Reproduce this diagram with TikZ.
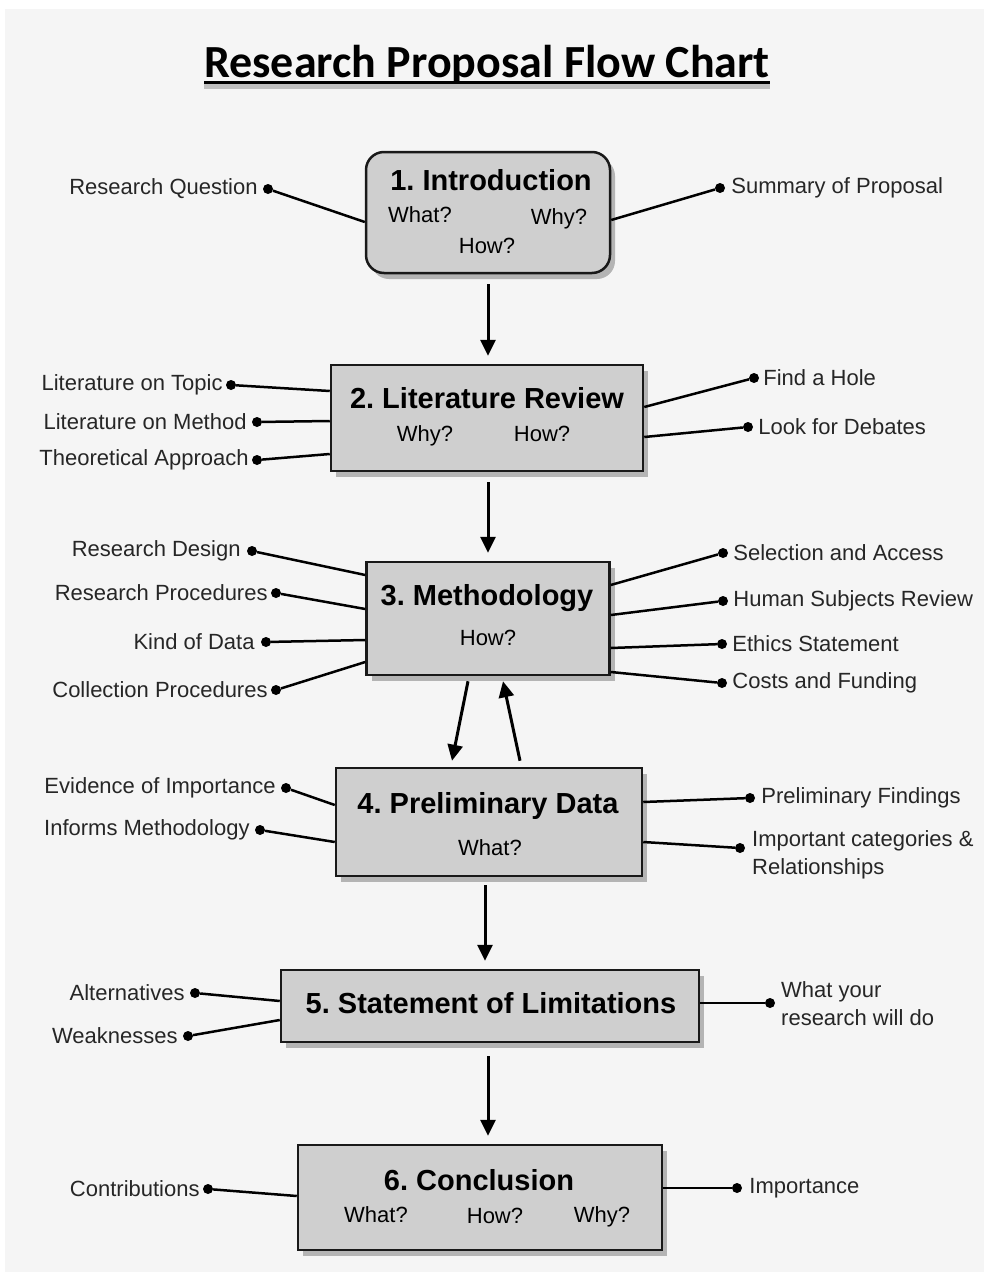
\documentclass[tikz,border=0pt]{standalone}
\usepackage{fontspec}
\setmainfont{Liberation Sans}
\newfontfamily\titrefont{Carlito}
\usetikzlibrary{positioning}
\usetikzlibrary{arrows.meta}
\usetikzlibrary{shadows}
\frenchspacing
\begin{document}
\begin{tikzpicture}[x=1pt,y=-1pt]
% les styles
\tikzstyle fondprojet=[fill=black!4]
\tikzstyle boiteprojet=[draw=black!90,line width=2.5pt,fill=black!19,drop shadow={shadow xshift=5pt,shadow yshift=-6pt,fill=black!50,opacity=0.55}]
\tikzstyle titreprojet=[font=\bfseries\fontsize{29}{32}\selectfont,anchor=base,inner sep=0pt]
\tikzstyle questionprojet=[font=\fontsize{22}{26}\selectfont,anchor=base,inner sep=0pt]
\tikzstyle etiquetteprojet=[font=\fontsize{22}{28}\selectfont,inner sep=0pt,text=black!85]
\tikzstyle pointprojet=[circle,fill=black,inner sep=0pt,minimum size=10pt]
\tikzstyle lienprojet=[line width=2.5pt]
\tikzstyle flecheprojet=[line width=3pt,-{Triangle[length=16pt,width=15pt]}]

% le fond
\fill[white] (0,0) rectangle (988,1282);
\fill[fondprojet] (5,9) rectangle (984,1272);
\useasboundingbox (0,0) rectangle (988,1282);

% le titre
\node[font=\titrefont\bfseries\fontsize{46}{50}\selectfont,anchor=base,inner sep=0pt] (titre) at (487,77) {Research Proposal Flow Chart};
\draw[line width=5pt,black!25] ([yshift=-9pt]titre.base west) -- ([yshift=-9pt]titre.base east);
\draw[line width=3pt] ([yshift=-5pt]titre.base west) -- ([yshift=-5pt]titre.base east);

% les boites
\node[boiteprojet,rounded corners=18pt,minimum width=244pt,minimum height=121pt] (b1) at (488,212.5) {};
\node[boiteprojet,minimum width=312pt,minimum height=106pt] (b2) at (487,418) {};
\node[boiteprojet,minimum width=243pt,minimum height=113pt] (b3) at (488,618.5) {};
\node[boiteprojet,minimum width=306pt,minimum height=108pt] (b4) at (489,822) {};
\node[boiteprojet,minimum width=418pt,minimum height=72pt] (b5) at (490,1006) {};
\node[boiteprojet,minimum width=364pt,minimum height=105pt] (b6) at (480,1197.5) {};

% textes des boites
\node[titreprojet] (t1) at (491,190) {1. Introduction};
\node[questionprojet] (q1a) at (420,222) {What?};
\node[questionprojet] (q1b) at (559,224) {Why?};
\node[questionprojet] (q1c) at (487,253) {How?};
\node[titreprojet] (t2) at (487,408) {2. Literature Review};
\node[questionprojet] (q2a) at (425,441) {Why?};
\node[questionprojet] (q2b) at (542,441) {How?};
\node[titreprojet] (t3) at (487,605) {3. Methodology};
\node[questionprojet] (q3a) at (488,645) {How?};
\node[titreprojet] (t4) at (488,813) {4. Preliminary Data};
\node[questionprojet] (q4a) at (490,855) {What?};
\node[titreprojet] (t5) at (491,1013) {5. Statement of Limitations};
\node[titreprojet] (t6) at (479,1190) {6. Conclusion};
\node[questionprojet] (q6a) at (376,1222) {What?};
\node[questionprojet] (q6b) at (495,1223) {How?};
\node[questionprojet] (q6c) at (602,1222) {Why?};

% les fleches
\draw[flecheprojet,shorten <=10pt,shorten >=8pt] (b1.south) -- (b2.north -| b1.south);
\draw[flecheprojet,shorten <=10pt,shorten >=8pt] (b2.south -| b3.north) -- (b3.north);
\draw[flecheprojet] ([xshift=-20pt,yshift=-5pt]b3.south) -- ([xshift=-37pt,yshift=6pt]b4.north);
\draw[flecheprojet] ([xshift=31pt,yshift=6pt]b4.north) -- ([xshift=15pt,yshift=-5pt]b3.south);
\draw[flecheprojet,shorten <=8pt,shorten >=8pt] ([xshift=-4pt]b4.south) -- ([xshift=-4pt]b4.south |- b5.north);
\draw[flecheprojet,shorten <=13pt,shorten >=8pt] ([xshift=-2pt]b5.south) -- ([xshift=-2pt]b5.south |- b6.north);

% etiquettes de gauche
\node[pointprojet] (g1a) at (268,189) {};
\node[etiquetteprojet,left=5pt of g1a] {Research Question};
\draw[lienprojet] (g1a) -- (b1.west |- 0,222);

\node[pointprojet] (g2a) at (231,385) {};
\node[etiquetteprojet,left=3pt of g2a] {Literature on Topic};
\draw[lienprojet] (g2a) -- (b2.west |- 0,391);
\node[pointprojet] (g2b) at (257,422) {};
\node[etiquetteprojet,left=5pt of g2b] {Literature on Method};
\draw[lienprojet] (g2b) -- (b2.west |- 0,421);
\node[pointprojet] (g2c) at (257,460) {};
\node[etiquetteprojet,left=3pt of g2c] {Theoretical Approach};
\draw[lienprojet] (g2c) -- (b2.west |- 0,454);

\node[pointprojet] (g3a) at (252,551) {};
\node[etiquetteprojet,left=6pt of g3a] {Research Design};
\draw[lienprojet] (g3a) -- (b3.west |- 0,575);
\node[pointprojet] (g3b) at (276,593) {};
\node[etiquetteprojet,left=3pt of g3b] {Research Procedures};
\draw[lienprojet] (g3b) -- (b3.west |- 0,609);
\node[pointprojet] (g3c) at (266,642) {};
\node[etiquetteprojet,left=6pt of g3c] {Kind of Data};
\draw[lienprojet] (g3c) -- (b3.west |- 0,640);
\node[pointprojet] (g3d) at (276,690) {};
\node[etiquetteprojet,left=3pt of g3d] {Collection Procedures};
\draw[lienprojet] (g3d) -- (b3.west |- 0,662);

\node[pointprojet] (g4a) at (286,788) {};
\node[etiquetteprojet,left=5pt of g4a] {Evidence of Importance};
\draw[lienprojet] (g4a) -- (b4.west |- 0,805);
\node[pointprojet] (g4b) at (260,830) {};
\node[etiquetteprojet,left=5pt of g4b] {Informs Methodology};
\draw[lienprojet] (g4b) -- (b4.west |- 0,842);

\node[pointprojet] (g5a) at (195,993) {};
\node[etiquetteprojet,left=5pt of g5a] {Alternatives};
\draw[lienprojet] (g5a) -- (b5.west |- 0,1001);
\node[pointprojet] (g5b) at (188,1036) {};
\node[etiquetteprojet,left=5pt of g5b] {Weaknesses};
\draw[lienprojet] (g5b) -- (b5.west |- 0,1020);

\node[pointprojet] (g6a) at (208,1189) {};
\node[etiquetteprojet,left=3pt of g6a] {Contributions};
\draw[lienprojet] (g6a) -- (b6.west |- 0,1196);

% etiquettes de droite
\node[pointprojet] (d1a) at (720,188) {};
\node[etiquetteprojet,right=6pt of d1a] {Summary of Proposal};
\draw[lienprojet] (d1a) -- (b1.east |- 0,220);

\node[pointprojet] (d2a) at (754,378) {};
\node[etiquetteprojet,right=4pt of d2a] {Find a Hole};
\draw[lienprojet] (d2a) -- (b2.east |- 0,407);
\node[pointprojet] (d2b) at (748,427) {};
\node[etiquetteprojet,right=5pt of d2b] {Look for Debates};
\draw[lienprojet] (d2b) -- (b2.east |- 0,437);

\node[pointprojet] (d3a) at (723,553) {};
\node[etiquetteprojet,right=5pt of d3a] {Selection and Access};
\draw[lienprojet] (d3a) -- (b3.east |- 0,585);
\node[pointprojet] (d3b) at (723,601) {};
\node[etiquetteprojet,right=5pt of d3b] {Human Subjects Review};
\draw[lienprojet] (d3b) -- (b3.east |- 0,615);
\node[pointprojet] (d3c) at (722,644) {};
\node[etiquetteprojet,right=5pt of d3c] {Ethics Statement};
\draw[lienprojet] (d3c) -- (b3.east |- 0,648);
\node[pointprojet] (d3d) at (722,683) {};
\node[etiquetteprojet,right=5pt of d3d] {Costs and Funding};
\draw[lienprojet] (d3d) -- (b3.east |- 0,672);

\node[pointprojet] (d4a) at (750,798) {};
\node[etiquetteprojet,right=6pt of d4a] {Preliminary Findings};
\draw[lienprojet] (d4a) -- (b4.east |- 0,802);
\node[pointprojet] (d4b) at (740,848) {};
\node[etiquetteprojet,align=left,anchor=west] (e4b) at (752,855) {Important categories \&\\Relationships};
\draw[lienprojet] (d4b) -- (b4.east |- 0,842);

\node[pointprojet] (d5a) at (770,1003) {};
\node[etiquetteprojet,align=left,anchor=west] (e5a) at (781,1004) {What your\\research will do};
\draw[lienprojet] (d5a) -- (b5.east |- d5a);

\node[pointprojet] (d6a) at (737,1188) {};
\node[etiquetteprojet,right=7pt of d6a] {Importance};
\draw[lienprojet] (d6a) -- (b6.east |- d6a);
\end{tikzpicture}
\end{document}
